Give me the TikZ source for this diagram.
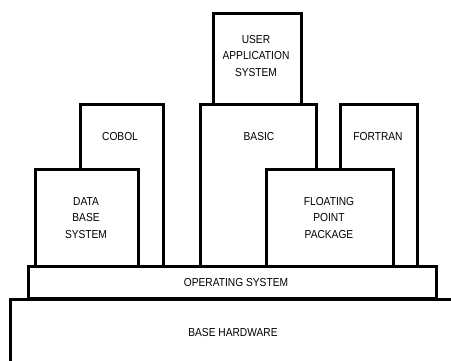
\documentclass[tikz,border=0pt]{standalone}
\usepackage{fontspec}
\setmainfont{Liberation Sans}[FakeStretch=0.88]
\begin{document}
\begin{tikzpicture}[x=1pt,y=-1pt,
  blk/.style={draw=black, fill=white, line width=2.8pt, inner sep=0pt},
  lbl/.style={font=\fontsize{11.6}{16.5}\selectfont, align=center, inner sep=0pt}]
\useasboundingbox (0,0) rectangle (451,361);
\clip (0,0) rectangle (451,361);
% base hardware (extends beyond picture)
\node[blk, anchor=north west, minimum width=460pt, minimum height=80pt] (hw) at (9,298) {};
\node[lbl] (hwt) at (233,333) {BASE HARDWARE};
% operating system
\node[blk, anchor=north west, minimum width=408pt, minimum height=32pt] (os) at (27,265) {};
\node[lbl] (ost) at (236,283) {OPERATING SYSTEM};
% COBOL
\node[blk, anchor=north west, minimum width=83pt, minimum height=162pt] (cobol) at (79,103) {};
\node[lbl] (cobolt) at (120,137) {COBOL};
% DATA BASE SYSTEM
\node[blk, anchor=north west, minimum width=103pt, minimum height=97pt] (db) at (34,168) {};
\node[lbl] (dbt) at (86,218) {DATA\\BASE\\SYSTEM};
% BASIC
\node[blk, anchor=north west, minimum width=116pt, minimum height=162pt] (basic) at (199,103) {};
\node[lbl] (basict) at (259,137) {BASIC};
% FORTRAN
\node[blk, anchor=north west, minimum width=77pt, minimum height=162pt] (fortran) at (339,103) {};
\node[lbl] (fortrant) at (378,137) {FORTRAN};
% FLOATING POINT PACKAGE
\node[blk, anchor=north west, minimum width=127pt, minimum height=97pt] (fpp) at (265,168) {};
\node[lbl] (fppt) at (329,218) {FLOATING\\POINT\\PACKAGE};
% USER APPLICATION SYSTEM
\node[blk, anchor=north west, minimum width=88pt, minimum height=91pt] (user) at (212,12) {};
\node[lbl] (usert) at (256,56) {USER\\APPLICATION\\SYSTEM};
\end{tikzpicture}
\end{document}
